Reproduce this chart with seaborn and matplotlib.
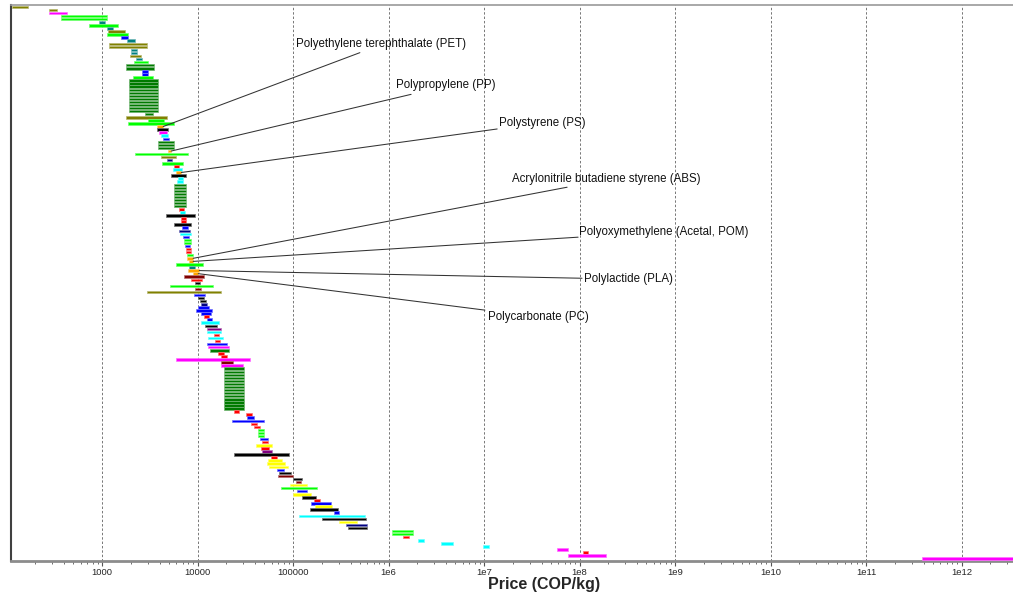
import numpy as np
import pandas as pd
import matplotlib
matplotlib.use("Agg")
import matplotlib.pyplot as plt
import matplotlib.colors as mcolors
from matplotlib.ticker import LogLocator, NullFormatter
import seaborn as sns

# precio mínimo y máximo por registro (COP/kg), de arriba hacia abajo
price_low = [
    114, 279, 279, 372, 372, 930, 731, 1128, 1156, 1128,
    1580, 1830, 1180, 1180, 2010, 2010, 1965, 2270, 2160, 1780,
    1780, 2620, 2620, 2110] + [1920] * 11 + [
    2820, 1780, 3030, 1870, 3770, 3770, 3950, 4150, 4360] + [3850] * 3 + [
    4850, 2210, 4150, 4790, 4250, 5670, 5530, 5950, 5280, 6240,
    6100] + [5670] * 8 + [
    6380, 6530, 4670, 6740, 6740, 5670, 6900, 6380, 6530, 7060,
    7240, 7240, 7410, 7590, 7590, 7770, 7770, 8150, 5950, 8150,
    7950, 8980, 7240, 8560, 9400, 5150, 9400, 2960, 9180, 10100,
    10600, 10900, 10100, 9630, 10900, 11720, 12560, 10900, 12000, 12560,
    12560, 14900, 12860, 15300, 12560, 12860, 13500, 16400, 17600, 5950,
    17600, 17600] + [18900] * 14 + [
    24100, 32200, 33000, 23000, 36300, 39000, 43000, 43000, 43000, 45000,
    47500, 41000, 46400, 47500, 24100, 58600, 54600, 53300, 55900, 67600,
    70900, 69300, 100000, 107000, 93000, 75000, 110000, 100000, 124000, 167000,
    154000, 170000, 150000, 267000, 115000, 200000, 300000, 360000, 375000,
    1.09e6, 1.09e6, 1.41e6, 2.04e6, 3.55e6, 9.8e6, 5.8e7, 1.09e8, 7.6e7, 3.85e11]

price_high = [
    168, 338, 430, 1128, 1128, 1075, 1472, 1300, 1740, 1870,
    1870, 2215, 2960, 2960, 2325, 2325, 2560, 2620, 3030, 3510,
    3510, 3030, 3030, 3430] + [3850] * 11 + [
    3430, 4790, 4460, 5670, 4360, 4910, 4790, 4910, 5030] + [5670] * 3 + [
    5280, 7950, 5950, 5400, 7060, 6380, 6900, 6740, 7590, 7060,
    7060] + [7590] * 8 + [
    7250, 7410, 9400, 7590, 7590, 8560, 7950, 8360, 8560, 8150,
    8560, 8560, 8360, 8560, 8560, 8980, 8980, 8980, 11440, 9400,
    10400, 10150, 11720, 11170, 10600, 14540, 10900, 17600, 12000, 11720,
    12270, 12560, 13180, 14200, 13860, 13180, 14200, 16800, 16000, 17600,
    17600, 16800, 18500, 17200, 20400, 21300, 21300, 19000, 20400, 35500,
    23500, 29800] + [30700] * 14 + [
    27200, 37200, 39000, 49700, 41900, 45000, 49700, 49700, 49700, 54600,
    54600, 60000, 55900, 60000, 90500, 67600, 76600, 82300, 88400, 80400,
    94800, 100000, 124000, 121000, 140000, 179000, 140000, 154000, 175000, 192000,
    250000, 255000, 295000, 300000, 565000, 580000, 467000, 590000, 590000,
    1.81e6, 1.81e6, 1.63e6, 2.36e6, 4.73e6, 1.13e7, 7.6e7, 1.23e8, 1.9e8, 1e13]

family = [
    "olive", "olive", "magenta", "lime", "lime", "teal", "lime", "teal", "olive", "lime",
    "blue", "teal", "olive", "olive", "teal", "teal", "olive", "teal", "lime", "dkgreen",
    "dkgreen", "blue", "blue", "lime"] + ["dkgreen"] * 11 + [
    "dkgreen", "olive", "lime", "lime", "orange", "black", "magenta", "cyan", "blue"] + ["dkgreen"] * 3 + [
    "orange", "lime", "olive", "navy", "lime", "red", "cyan", "orange", "black", "cyan",
    "cyan"] + ["dkgreen"] * 8 + [
    "red", "cyan", "black", "red", "red", "black", "blue", "navy", "cyan", "blue",
    "lime", "lime", "blue", "red", "red", "lime", "orange", "orange", "lime", "teal",
    "orange", "orange", "darkred", "red", "black", "lime", "darkred", "olive", "blue", "black",
    "black", "navy", "blue", "blue", "blue", "red", "blue", "cyan", "black", "purple",
    "cyan", "red", "cyan", "red", "blue", "magenta", "dkgreen", "red", "red", "magenta",
    "darkred", "magenta"] + ["dkgreen"] * 14 + [
    "red", "red", "blue", "blue", "red", "red", "lime", "lime", "lime", "blue",
    "red", "yellow", "red", "purple", "black", "red", "yellow", "yellow", "yellow", "blue",
    "black", "darkred", "black", "darkred", "yellow", "lime", "blue", "yellow", "black", "red",
    "blue", "yellow", "black", "blue", "cyan", "black", "yellow", "navy", "black",
    "lime", "lime", "red", "cyan", "cyan", "cyan", "magenta", "red", "magenta", "magenta"]

palette = {
    "olive": "#808000", "magenta": "#ff00ff", "lime": "#00ff00", "teal": "#008080",
    "blue": "#0000ff", "dkgreen": "#007a00", "orange": "#ffa500", "black": "#000000",
    "cyan": "#00ffff", "navy": "#000080", "red": "#ff0000", "darkred": "#800000",
    "purple": "#800080", "yellow": "#ffff00",
}

# materiales etiquetados: (nombre, fila)
labels = ["Polyethylene terephthalate (PET)", "Polypropylene (PP)", "Polystyrene (PS)",
          "Acrylonitrile butadiene styrene (ABS)", "Polyoxymethylene (Acetal, POM)",
          "Polylactide (PLA)", "Polycarbonate (PC)"]
label_rows = [39, 47, 54, 82, 83, 86, 87]
# posición del texto (x, fila) y origen de la línea guía
text_pos = [(1.07e5, 12.1), (1.20e6, 25.4), (1.44e7, 37.9), (1.96e7, 56.1),
            (9.9e7, 73.3), (1.11e8, 88.7), (1.10e7, 101.0)]
line_start = [(5.0e5, 14.9), (1.72e6, 28.5), (1.37e7, 39.8), (7.4e7, 58.8),
              (9.65e7, 75.1), (1.06e8, 88.5), (1.02e7, 98.9)]

df = pd.DataFrame({"low": price_low, "high": price_high, "family": family})
df["row"] = np.arange(len(df))

sns.set_style("white")
plt.rcParams["font.family"] = ["Liberation Sans", "DejaVu Sans"]

fig = plt.figure(figsize=(10.13, 5.99), dpi=100)
ax = fig.add_axes([11 / 1013, 1 - 561 / 599, 1 - 11 / 1013, (561 - 5) / 599])

cols = [palette[f] for f in df["family"]]
edges = [mcolors.to_hex(0.55 * np.array(mcolors.to_rgb(c)) + 0.45) for c in cols]
ax.barh(df["row"], df["high"] - df["low"], left=df["low"], height=0.8,
        color=cols, edgecolor=edges, linewidth=0.5, zorder=3)

ax.set_xscale("log")
ax.set_xlim(111, 3.46e12)
ax.set_ylim(180.75, -0.65)
ax.set_yticks([])

ticks = [10.0 ** k for k in range(3, 13)]
tick_labels = ["1000", "10000", "100000", "1e6", "1e7", "1e8", "1e9", "1e10", "1e11", "1e12"]
ax.set_xticks(ticks, labels=tick_labels, fontsize=6.8)
ax.xaxis.set_minor_locator(LogLocator(base=10, subs=np.arange(2, 10), numticks=100))
ax.xaxis.set_minor_formatter(NullFormatter())
ax.tick_params(axis="x", which="major", direction="out", length=3.5, width=0.8,
               color="#555555", pad=1.5, bottom=True)
ax.tick_params(axis="x", which="minor", direction="out", length=2.5, width=0.6,
               color="#555555", bottom=True)

ax.grid(axis="x", which="major", linestyle=(0, (2.5, 2)), color="#777777", linewidth=0.7, zorder=0)
ax.set_axisbelow(True)

ax.spines["top"].set_color("#9a9a9a")
ax.spines["top"].set_linewidth(1.2)
ax.spines["bottom"].set_color("#8c8c8c")
ax.spines["bottom"].set_linewidth(2)
ax.spines["left"].set_color("#404040")
ax.spines["left"].set_linewidth(1.5)
ax.spines["right"].set_visible(False)

for name, r, (tx, ty), (lx, ly) in zip(labels, label_rows, text_pos, line_start):
    ax.plot([lx, price_high[r]], [ly, r], color="#333333", linewidth=0.75, zorder=4)
    ax.text(tx, ty, name, fontsize=8.3, ha="left", va="center", color="#111111", zorder=5)

ax.set_xlabel("Price (COP/kg)", fontsize=11.5, fontweight="bold")
ax.xaxis.set_label_coords(0.532, -0.043)
ax.xaxis.label.set_va("center")

fig.savefig("out.png", dpi=100)
